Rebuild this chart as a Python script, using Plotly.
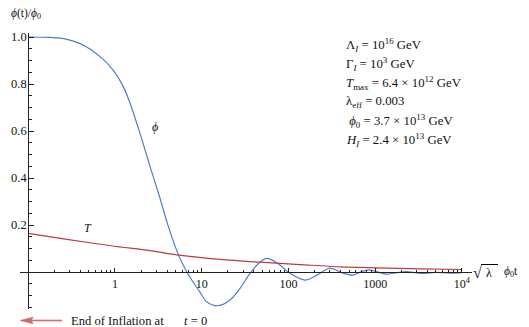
import plotly.graph_objects as go

# ---- data ----
phi_x = [0.1, 0.18, 0.28, 0.395, 0.515, 0.727, 0.948, 1.24, 1.49, 1.94, 2.53, 3.30, 4.08,
         5.47, 6.95, 9.55, 11.4, 15.5, 21.2, 27.7, 36.1, 47, 57, 80, 99, 155, 214, 302,
         426, 556, 700, 830, 1000, 1340, 1800, 2270, 3000, 3560, 5000, 7300, 10000]
phi_y = [1.0, 0.998, 0.990, 0.972, 0.949, 0.906, 0.860, 0.791, 0.719, 0.591, 0.451, 0.315, 0.200,
         0.068, -0.008, -0.085, -0.126, -0.143, -0.119, -0.069, -0.005, 0.042, 0.058, 0.03, 0.0,
         -0.034, -0.013, 0.017, -0.005, -0.013, 0.002, 0.009, 0.004, -0.009, -0.002, 0.002,
         -0.003, -0.006, -0.001, -0.004, -0.002]

T_x = [0.1, 0.28, 0.95, 2.53, 5.47, 16.3, 47, 136, 400, 1023, 3295, 10000]
T_y = [0.165, 0.139, 0.111, 0.091, 0.072, 0.054, 0.042, 0.032, 0.022, 0.018, 0.014, 0.011]

x_tickvals = [1, 10, 100, 1000, 10000]
x_ticktext = ["1", "10", "100", "1000", "10<sup>4</sup>"]
x_minor = [m * 10 ** e for e in range(-1, 4) for m in range(2, 10)]
y_tickvals = [0.2, 0.4, 0.6, 0.8, 1.0]
y_ticktext = ["0.2", "0.4", "0.6", "0.8", "1.0"]
y_minor = [-0.15, -0.1, -0.05, 0.05, 0.1, 0.15, 0.25, 0.3, 0.35, 0.45, 0.5, 0.55,
           0.65, 0.7, 0.75, 0.85, 0.9, 0.95]

EQ = "\u00a0=\u00a0"
params = [
    f"Λ<sub><i>I</i></sub>{EQ}10<sup>16</sup> GeV",
    f"Γ<sub><i>I</i></sub>{EQ}10<sup>3</sup> GeV",
    f"<i>T</i><sub>max</sub>{EQ}6.4 × 10<sup>12</sup> GeV",
    f"λ<sub>eff</sub>{EQ}0.003",
    f" <i>ϕ</i><sub>0</sub>{EQ}3.7 × 10<sup>13</sup> GeV",
    f"<i>H</i><sub><i>I</i></sub>{EQ}2.4 × 10<sup>13</sup> GeV",
]

# ---- layout geometry (page has an 8px body margin) ----
OFF = 8
W, H = 529 - OFF, 327 - OFF
PL, PR, PT, PB = 20, 472, 33, 309          # plot area in page pixels
L, R, T, B = PL - OFF, W - (PR - OFF), PT - OFF, H - (PB - OFF)
PW, PH = PR - PL, PB - PT
XR = [-1.095, 4.117]
YR = [-0.157, 1.017]


def px(x):
    return (x - PL) / PW


def py(y):
    return (PB - y) / PH


FONT = "Liberation Serif"
BLUE = "#4F7FC4"
RED = "#BE3A3F"
ARROW = "#D26A6E"
TXT = "#111"

fig = go.Figure()
fig.add_trace(go.Scatter(x=phi_x, y=phi_y, mode="lines",
                         line=dict(color=BLUE, width=1.2, shape="spline", smoothing=0.9),
                         showlegend=False, hoverinfo="skip"))
fig.add_trace(go.Scatter(x=T_x, y=T_y, mode="lines",
                         line=dict(color=RED, width=1.2, shape="spline", smoothing=0.8),
                         showlegend=False, hoverinfo="skip"))


def txt(x, y, text, size=12, xanchor="left"):
    return dict(xref="paper", yref="paper", x=px(x), y=py(y), text=text, showarrow=False,
                xanchor=xanchor, yanchor="middle", font=dict(family=FONT, size=size, color=TXT))


ann = []
for i, t in enumerate(params):
    ann.append(txt(344, 45 + i * 18.9, t, size=12.8))
ann.append(txt(9, 14, "<i>ϕ</i>(t)/<i>ϕ</i><sub>0</sub>", size=11.5))
ann.append(txt(155, 127, "<i>ϕ</i>", xanchor="center"))
ann.append(txt(88, 228, "<i>T</i>", xanchor="center"))
# x-axis label  sqrt(lambda) phi0 t  (kept inside the visible width)
ann.append(txt(477, 272, "√", size=16, xanchor="center"))
ann.append(txt(489.5, 273, "λ", size=12, xanchor="center"))
ann.append(txt(520, 272, "<i>ϕ</i><sub>0</sub>t", size=11.5, xanchor="right"))
# bottom note
ann.append(txt(69, 321, "End of Inflation at", size=12.6))
ann.append(txt(182, 321, f"<i>t</i>{EQ}0", size=12.6))

shapes = [
    # overline of the square root
    dict(type="line", xref="paper", yref="paper", x0=px(481), x1=px(498), y0=py(264.5), y1=py(264.5),
         line=dict(color="#000", width=1)),
    # arrow shaft and head
    dict(type="line", xref="paper", yref="paper", x0=px(30), x1=px(62), y0=py(320.5), y1=py(320.5),
         line=dict(color=ARROW, width=1.6)),
    dict(type="path", xref="paper", yref="paper",
         path=f"M {px(20.5)},{py(320.5)} L {px(33)},{py(317.3)} L {px(31)},{py(320.5)} L {px(33)},{py(323.7)} Z",
         fillcolor=ARROW, line=dict(color=ARROW, width=0.8)),
]

fig.update_layout(
    width=W, height=H, margin=dict(l=L, r=R, t=T, b=B, autoexpand=False),
    paper_bgcolor="white", plot_bgcolor="white",
    xaxis=dict(type="log", range=XR, domain=[0, 1], anchor="free", position=-YR[0] / (YR[1] - YR[0]),
               showline=True, linecolor="#222", linewidth=1, showgrid=False, zeroline=False,
               tickmode="array", tickvals=x_tickvals, ticktext=x_ticktext, ticks="inside", ticklen=4,
               tickcolor="#222", tickwidth=1, ticklabelstandoff=1,
               minor=dict(tickmode="array", tickvals=x_minor, ticks="inside", ticklen=2, tickcolor="#222", showgrid=False),
               tickfont=dict(family=FONT, size=12, color=TXT), automargin=False),
    yaxis=dict(range=YR, domain=[0, 1], anchor="free", position=(-1 - XR[0]) / (XR[1] - XR[0]),
               showline=True, linecolor="#222", linewidth=1, showgrid=False, zeroline=False,
               tickmode="array", tickvals=y_tickvals, ticktext=y_ticktext, ticks="inside", ticklen=5,
               tickcolor="#222", tickwidth=1, ticklabelstandoff=-1,
               minor=dict(tickmode="array", tickvals=y_minor, ticks="inside", ticklen=3, tickcolor="#222", showgrid=False),
               tickfont=dict(family=FONT, size=12.5, color=TXT), automargin=False),
    annotations=ann,
    shapes=shapes,
)

fig.write_html("out.html")
